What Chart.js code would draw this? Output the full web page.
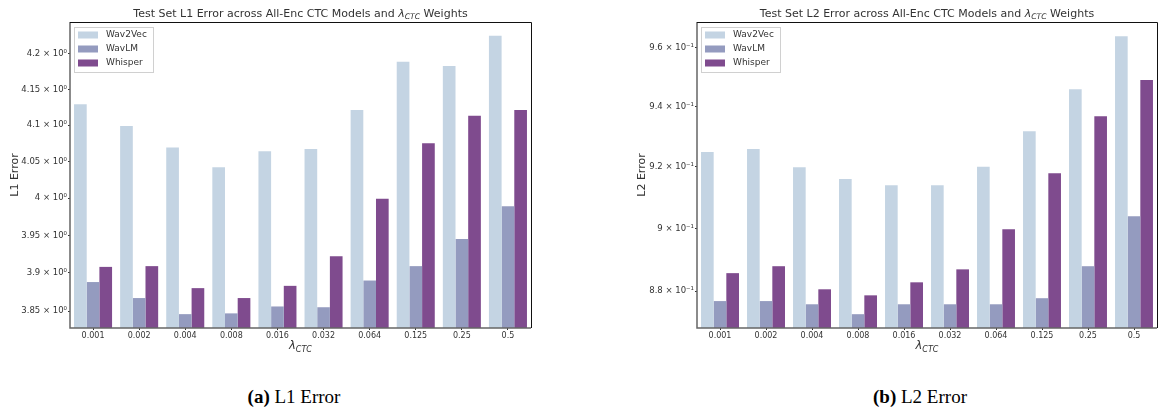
<!DOCTYPE html>
<html>
<head>
<meta charset="utf-8">
<title>All-Enc CTC errors</title>
<script src="https://cdn.jsdelivr.net/npm/chart.js@4.4.0/dist/chart.umd.min.js"></script>
<style>
  body { margin: 0; background: #fff; width: 1159px; height: 412px; overflow: hidden; position: relative; }
  canvas { position: absolute; top: 0; }
  #l1Chart { left: 0; }
  #l2Chart { left: 580px; }
  .caption { position: absolute; top: 386px; width: 300px; text-align: center;
             font-family: "Liberation Serif", "Times New Roman", serif; font-size: 19px; color: #000; }
</style>
</head>
<body>
<canvas id="l1Chart" width="580" height="370"></canvas>
<canvas id="l2Chart" width="579" height="370"></canvas>
<div class="caption" style="left:144px"><b>(a)</b> L1 Error</div>
<div class="caption" style="left:770px"><b>(b)</b> L2 Error</div>

<script>
// lambda_CTC weights on the x axis
const LAMBDAS = ["0.001", "0.002", "0.004", "0.008", "0.016", "0.032", "0.064", "0.125", "0.25", "0.5"];
const MODELS = ["Wav2Vec", "WavLM", "Whisper"];

// test-set L1 error per model
const L1_WAV2VEC = [4.129, 4.099, 4.069, 4.042, 4.064, 4.067, 4.121, 4.189, 4.183, 4.226];
const L1_WAVLM   = [3.888, 3.867, 3.846, 3.847, 3.856, 3.855, 3.890, 3.909, 3.945, 3.989];
const L1_WHISPER = [3.908, 3.909, 3.880, 3.867, 3.883, 3.922, 3.999, 4.075, 4.113, 4.121];

// test-set L2 error per model
const L2_WAV2VEC = [0.9249, 0.9259, 0.9199, 0.9160, 0.9140, 0.9140, 0.9200, 0.9318, 0.9459, 0.9640];
const L2_WAVLM   = [0.8769, 0.8769, 0.8759, 0.8728, 0.8759, 0.8759, 0.8759, 0.8778, 0.8879, 0.9039];
const L2_WHISPER = [0.8857, 0.8879, 0.8806, 0.8787, 0.8828, 0.8869, 0.8997, 0.9179, 0.9368, 0.9490];

// log-axis ticks (matplotlib-style minor labels)
const L1_TICKS = [3.85, 3.9, 3.95, 4.0, 4.05, 4.1, 4.15, 4.2];
const L1_TICK_LABELS = ["3.85 × 10⁰", "3.9 × 10⁰", "3.95 × 10⁰", "4 × 10⁰", "4.05 × 10⁰", "4.1 × 10⁰", "4.15 × 10⁰", "4.2 × 10⁰"];
const L2_TICKS = [0.88, 0.90, 0.92, 0.94, 0.96];
const L2_TICK_LABELS = ["8.8 × 10⁻¹", "9 × 10⁻¹", "9.2 × 10⁻¹", "9.4 × 10⁻¹", "9.6 × 10⁻¹"];

const COLORS = ["#c4d4e3", "#949bbf", "#7f4b8e"];
const FONT = "'DejaVu Sans', sans-serif";
const INK = "#333";

// draws a run of text pieces, some italic and/or subscripted
function drawRich(ctx, parts, cx, cy, size) {
  const fontFor = (p) => `${p.italic ? "italic " : ""}${p.sub ? size * 0.7 : size}px ${FONT}`;
  let total = 0;
  parts.forEach((p) => { ctx.font = fontFor(p); total += ctx.measureText(p.t).width; });
  let x = cx - total / 2;
  ctx.textBaseline = "middle";
  ctx.textAlign = "left";
  parts.forEach((p) => {
    ctx.font = fontFor(p);
    ctx.fillText(p.t, x, p.sub ? cy + size * 0.3 : cy);
    x += ctx.measureText(p.t).width;
  });
}

const figurePlugin = {
  id: "figure",
  afterDatasetsDraw(chart) {
    const { ctx, chartArea: a } = chart;
    const fig = chart.options.plugins.figure;
    ctx.save();
    ctx.fillStyle = INK;

    // title and x label with lambda_CTC subscript
    const mid = (a.left + a.right) / 2;
    drawRich(ctx, fig.title, mid, 14, 11);
    drawRich(ctx, [{ t: "λ", italic: true }, { t: "CTC", italic: true, sub: true }], mid, 346, 11.5);

    // rotated y label
    ctx.save();
    ctx.translate(a.left - 55, (a.top + a.bottom) / 2);
    ctx.rotate(-Math.PI / 2);
    ctx.font = `11px ${FONT}`;
    ctx.textAlign = "center";
    ctx.textBaseline = "middle";
    ctx.fillText(fig.yLabel, 0, 0);
    ctx.restore();

    // legend box, top-left inside the axes
    const lx = a.left + 4, ly = a.top + 5;
    ctx.fillStyle = "rgba(255,255,255,0.85)";
    ctx.strokeStyle = "#d0d0d0";
    ctx.lineWidth = 1;
    ctx.fillRect(lx, ly, 79, 45);
    ctx.strokeRect(lx + 0.5, ly + 0.5, 79, 45);
    ctx.font = `9px ${FONT}`;
    ctx.textBaseline = "middle";
    ctx.textAlign = "left";
    chart.data.datasets.forEach((ds, i) => {
      const ry = ly + 8 + i * 14;
      ctx.fillStyle = ds.backgroundColor;
      ctx.fillRect(lx + 4, ry - 3.5, 20, 7);
      ctx.fillStyle = INK;
      ctx.fillText(ds.label, lx + 32, ry);
    });

    // spines: grey left/bottom, black top/right
    ctx.lineWidth = 1.5;
    ctx.strokeStyle = "#666";
    ctx.beginPath();
    ctx.moveTo(a.left, a.top);
    ctx.lineTo(a.left, a.bottom);
    ctx.lineTo(a.right, a.bottom);
    ctx.stroke();
    ctx.lineWidth = 1;
    ctx.strokeStyle = "#111";
    ctx.beginPath();
    ctx.moveTo(a.left, a.top + 0.5);
    ctx.lineTo(a.right + 0.5, a.top + 0.5);
    ctx.lineTo(a.right + 0.5, a.bottom);
    ctx.stroke();
    ctx.restore();
  },
};

function makeChart(id, series, ticks, tickLabels, range, axisWidth, padRight, title, yLabel) {
  const canvas = document.getElementById(id);
  return new Chart(canvas.getContext("2d"), {
    type: "bar",
    data: {
      labels: LAMBDAS,
      datasets: MODELS.map((m, i) => ({
        label: m,
        data: series[i],
        backgroundColor: COLORS[i],
        borderWidth: 0,
        categoryPercentage: 0.825,
        barPercentage: 1.0,
      })),
    },
    options: {
      responsive: false,
      animation: false,
      devicePixelRatio: 1,
      layout: { padding: { top: 22, right: padRight, left: 0, bottom: 0 } },
      plugins: {
        legend: { display: false },
        tooltip: { enabled: false },
        figure: { title, yLabel },
      },
      scales: {
        x: {
          grid: { display: true, drawOnChartArea: false, offset: false, tickLength: 2, color: INK },
          border: { display: false },
          ticks: { color: INK, font: { family: FONT, size: 8 }, padding: 1, maxRotation: 0 },
          afterFit: (s) => { s.height = 42; },
        },
        y: {
          type: "logarithmic",
          min: range[0],
          max: range[1],
          grid: { display: true, drawOnChartArea: false, tickLength: 2, color: INK },
          border: { display: false },
          ticks: {
            color: INK,
            font: { family: FONT, size: 8.5 },
            padding: 1,
            autoSkip: false,
            callback: (v, i) => tickLabels[i],
          },
          afterBuildTicks: (s) => { s.ticks = ticks.map((v) => ({ value: v })); },
          afterFit: (s) => { s.width = axisWidth; },
        },
      },
    },
    plugins: [figurePlugin],
  });
}

makeChart(
  "l1Chart",
  [L1_WAV2VEC, L1_WAVLM, L1_WHISPER],
  L1_TICKS, L1_TICK_LABELS,
  [3.828, 4.2457],
  70, 49,
  [{ t: "Test Set L1 Error across All-Enc CTC Models and " }, { t: "λ", italic: true },
   { t: "CTC", italic: true, sub: true }, { t: " Weights" }],
  "L1 Error"
);

makeChart(
  "l2Chart",
  [L2_WAV2VEC, L2_WAVLM, L2_WHISPER],
  L2_TICKS, L2_TICK_LABELS,
  [0.8685, 0.9689],
  117, 2,
  [{ t: "Test Set L2 Error across All-Enc CTC Models and " }, { t: "λ", italic: true },
   { t: "CTC", italic: true, sub: true }, { t: " Weights" }],
  "L2 Error"
);
</script>
</body>
</html>
